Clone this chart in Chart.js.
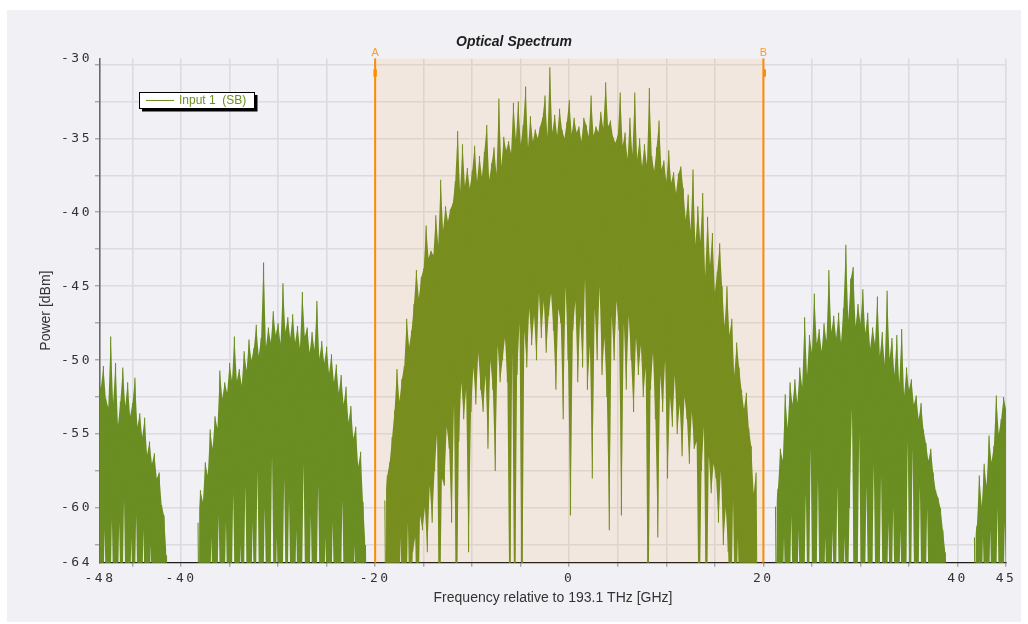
<!DOCTYPE html>
<html>
<head>
<meta charset="utf-8">
<title>Optical Spectrum</title>
<script src="https://cdn.jsdelivr.net/npm/chart.js@4.4.1/dist/chart.umd.min.js"></script>
<style>
  html, body { margin: 0; padding: 0; background: #ffffff; }
  #wrap { position: relative; width: 1028px; height: 624px; }
  #panel { position: absolute; left: 7px; top: 10px; width: 1014px; height: 612px; background: #f1f0f4; }
  #spectrum { position: absolute; left: 0; top: 0; }
</style>
</head>
<body>
<div id="wrap">
  <div id="panel"></div>
  <canvas id="spectrum" width="1028" height="624"></canvas>
</div>
<script>
// ---- Spectrum samples (dBm), one peak + one trough per 0.25 GHz bin ----
const SAMPLE_STEP = 0.25; // GHz

// Second lower side lobe (partially visible)
const farLeftStart = -48.5;
const farLeftPeak = [
  -52.0, -51.8, -50.4, -52.6, -53.2, -48.4, -52.9, -50.2,
  -54.4, -52.8, -50.5, -53.1, -51.5, -53.8, -52.9, -51.2,
  -54.5, -53.6, -55.2, -53.9, -56.4, -55.5, -57.0, -56.3,
  -58.0, -57.6, -59.8, -60.5, -63.2
];
const farLeftTrough = [
  -70, -70, -61.5, -70, -70, -60.8, -70, -70,
  -61, -70, -59.5, -70, -70, -62, -70, -60.5,
  -70, -70, -61.5, -70, -70, -62.5, -70, -70,
  -70, -70, -70, -70, -70
];

// First lower side lobe
const leftStart = -38.25;
const leftPeak = [
  -61.0, -58.8, -59.6, -56.9, -57.8, -54.7, -56.0, -53.8,
  -54.6, -50.7, -52.6, -51.5, -52.2, -50.2, -51.4, -48.4,
  -51.4, -50.6, -51.7, -49.4, -50.7, -48.6, -50.0, -49.2,
  -47.6, -49.7, -48.5, -43.4, -49.1, -47.8, -48.8, -46.7,
  -48.3, -47.5, -48.9, -44.8, -48.1, -47.1, -48.5, -46.9,
  -48.8, -47.7, -49.2, -45.4, -48.4, -47.8, -49.5, -48.1,
  -49.3, -46.0, -49.9, -48.7, -50.2, -49.1, -50.9, -49.6,
  -51.5, -50.3, -52.2, -51.0, -53.0, -51.8, -54.2, -53.1,
  -55.3, -54.5, -57.2, -56.2, -59.6, -62.5
];
const leftTrough = [
  -70, -70, -70, -70, -70, -62, -70, -70, -60.5, -70,
  -70, -61, -70, -70, -59, -70, -70, -62.5, -70, -58.5,
  -70, -70, -61, -70, -57.5, -70, -70, -60, -70, -70,
  -56.5, -70, -62, -70, -70, -58, -70, -59.5, -70, -70,
  -61.5, -70, -70, -57, -70, -70, -60.5, -70, -70, -58.5,
  -70, -70, -62, -70, -70, -61, -70, -70, -70, -59.5,
  -70, -70, -70, -70, -62.5, -70, -70, -70, -70, -70
];

// Main lobe
const mainStart = -19.0;
const mainPeak = [
  -59.5, -57.8, -56.9, -55.2, -53.4, -50.6, -52.8, -51.3,
  -50.4, -47.2, -49.1, -48.0, -46.2, -43.9, -45.8, -44.4,
  -43.8, -40.9, -43.1, -42.6, -42.9, -40.2, -42.2, -37.8,
  -41.2, -39.6, -40.6, -39.8, -39.4, -37.9, -34.5, -38.6,
  -35.4, -38.2, -37.0, -38.4, -37.2, -35.5, -37.9, -36.2,
  -37.6, -35.9, -34.1, -37.8, -36.7, -35.6, -37.4, -32.3,
  -36.9, -34.9, -35.8, -35.2, -36.0, -32.6, -35.1, -32.5,
  -35.4, -34.1, -31.5, -35.6, -33.5, -35.2, -34.4, -35.0,
  -34.2, -33.6, -32.1, -34.9, -30.2, -34.6, -33.4, -34.8,
  -33.0, -34.4, -35.0, -33.9, -32.4, -34.7, -33.6, -34.6,
  -34.2, -35.2, -33.6, -34.1, -34.9, -32.1, -34.8, -34.2,
  -34.6, -33.2, -34.3, -31.2, -34.2, -33.8, -34.9, -35.3,
  -34.8, -31.9, -35.5, -34.6, -36.4, -33.6, -36.1, -31.9,
  -36.4, -35.0, -36.9, -35.4, -36.8, -31.6, -36.2, -37.2,
  -35.6, -33.8, -37.1, -36.5, -37.9, -35.8, -38.0, -37.3,
  -38.7, -37.4, -36.9, -38.4, -40.5, -38.8, -41.2, -37.1,
  -42.2, -39.6, -42.0, -38.7, -44.3, -40.3, -43.6, -41.4,
  -45.4, -44.0, -42.1, -45.0, -47.7, -45.0, -48.3, -47.2,
  -51.0, -48.8, -50.5, -52.0, -53.3, -52.2, -54.6, -55.8,
  -59.0, -57.6
];
const mainTrough = [
  -70, -70, -70, -70, -70, -70, -62, -70,
  -70, -61, -70, -63, -62, -70, -60.5, -61.5,
  -60, -63, -58.5, -61, -57.5, -55, -70, -58,
  -58.5, -54.5, -56, -61, -53, -70, -55.5, -51.5,
  -54, -52, -63, -53.5, -50.5, -53, -49.5, -52,
  -53.5, -51, -56, -50, -52, -57.5, -49, -51.5,
  -50, -48.5, -51.5, -70, -49.5, -70, -51, -47.5,
  -70, -48, -50.5, -46.5, -49, -47, -50, -45.5,
  -48.5, -46, -49.5, -47, -45.5, -48, -52, -46.5,
  -47.5, -54, -45, -50, -60.5, -48, -46, -51.5,
  -47, -50.5, -44.5, -52, -49, -58, -46.5, -50,
  -45, -51, -48.5, -52.5, -61.5, -47, -50, -46,
  -48, -60.5, -47.5, -52, -47, -50, -53.5, -48.5,
  -51, -49, -52.5, -50.5, -70, -52, -49.5, -54,
  -62, -51, -53.5, -50, -58, -52.5, -54.5, -51,
  -55, -53, -56.5, -52.5, -54, -57, -53.5, -56,
  -55.5, -70, -57.5, -54.5, -70, -56.5, -59, -57,
  -58, -61, -57.5, -62.5, -60, -63, -70, -59.5,
  -70, -62, -70, -70, -70, -70, -70, -70,
  -70, -70
];

// First upper side lobe
const rightStart = 21.25;
const rightPeak = [
  -59.9, -58.7, -56.0, -56.8, -52.3, -54.6, -51.5, -53.0,
  -51.3, -52.9, -50.5, -51.8, -47.1, -51.0, -48.3, -49.5,
  -45.5, -48.9, -47.9, -49.4, -47.5, -48.7, -43.9, -48.1,
  -47.0, -48.5, -46.8, -48.8, -46.5, -42.2, -47.3, -44.5,
  -43.7, -47.7, -46.2, -47.5, -45.2, -48.2, -46.8, -49.2,
  -47.8, -48.9, -45.7, -49.7, -48.1, -50.3, -45.3, -49.9,
  -48.5, -51.0, -48.3, -51.6, -47.9, -52.4, -50.5, -52.0,
  -51.3, -53.0, -52.4, -54.0, -52.9, -54.7, -55.6, -56.8,
  -56.0, -57.6, -58.8, -59.3, -60.0, -61.5, -63.0
];
const rightTrough = [
  -70, -70, -70, -62, -70, -70, -60.5, -70,
  -70, -61.5, -70, -70, -59, -70, -56, -70,
  -70, -58, -70, -70, -62, -70, -70, -61.5,
  -70, -58.5, -70, -70, -62, -70, -60, -53.3,
  -70, -70, -55, -70, -70, -58.5, -70, -70,
  -57, -70, -70, -57.8, -70, -70, -61, -70,
  -60, -70, -70, -61.5, -70, -70, -55.5, -70,
  -56, -70, -70, -58.5, -70, -70, -60, -70,
  -70, -70, -70, -70, -70, -70, -70
];

// Second upper side lobe (partially visible)
const farRightStart = 41.75;
const farRightPeak = [
  -62.0, -61.2, -57.8, -59.9, -57.0, -58.5, -55.1, -56.9,
  -55.8, -52.4, -55.0, -54.0, -52.5, -53.3, -52.8
];
const farRightTrough = [
  -70, -70, -70, -62, -70, -70, -61.5, -70,
  -70, -60, -70, -70, -61, -70, -70
];

// ---- Axes ----
const xAxisRange = [-48.35, 45];
const xGridValues = [-45, -40, -35, -30, -25, -20, -15, -10, -5, 0, 5, 10, 15, 20, 25, 30, 35, 40, 45];
const xTickLabels = { '-48.35': '-48', '-40': '-40', '-20': '-20', '0': '0', '20': '20', '40': '40', '45': '45' };

const yAxisRange = [-63.7, -29.6];
const yGridValues = [-62.5, -60, -57.5, -55, -52.5, -50, -47.5, -45, -42.5, -40, -37.5, -35, -32.5, -30];
const yTickLabels = { '-63.7': '-64', '-60': '-60', '-55': '-55', '-50': '-50', '-45': '-45', '-40': '-40', '-35': '-35', '-29.6': '-30' };

// Frequency markers A and B
const markerNames = ['A', 'B'];
const markerFreqs = [-20, 20];

const seriesName = 'Input 1  (SB)';
const TRACE = '#6b8e23';
const GRID = '#dcdbdf';
const TICK = '#8a8a8a';
const TEXT = '#333333';

// ---- Build the trace: each bin contributes its peak then its trough ----
const lobes = [
  { start: farLeftStart, peak: farLeftPeak, trough: farLeftTrough },
  { start: leftStart, peak: leftPeak, trough: leftTrough },
  { start: mainStart, peak: mainPeak, trough: mainTrough },
  { start: rightStart, peak: rightPeak, trough: rightTrough },
  { start: farRightStart, peak: farRightPeak, trough: farRightTrough }
];
const tracePoints = [];   // zig-zag through peak and trough of every bin
const peakPoints = [];    // upper edge of the dense band
const troughPoints = [];  // lower edge of the dense band
lobes.forEach((lobe, k) => {
  if (k > 0) {
    const gapX = lobe.start - SAMPLE_STEP / 2;
    tracePoints.push({ x: gapX, y: null });
    peakPoints.push({ x: gapX, y: null });
    troughPoints.push({ x: gapX, y: null });
  }
  lobe.peak.forEach((p, i) => {
    const f = lobe.start + i * SAMPLE_STEP;
    const t = lobe.trough[i];
    tracePoints.push({ x: f, y: p });
    tracePoints.push({ x: f + SAMPLE_STEP / 2, y: t });
    peakPoints.push({ x: f, y: p });
    troughPoints.push({ x: f + SAMPLE_STEP / 2, y: t });
  });
});

// Linear scale whose tick labels are drawn with extra letter spacing
class SpacedLinearScale extends Chart.LinearScale {
  drawLabels(area) {
    const ctx = this.ctx;
    ctx.save();
    ctx.letterSpacing = '2.5px';
    super.drawLabels(area);
    ctx.restore();
  }
}
SpacedLinearScale.id = 'spacedLinear';
SpacedLinearScale.defaults = Chart.LinearScale.defaults;
Chart.register(SpacedLinearScale);

const isEdge = (v, range) => Math.abs(v - range[0]) < 1e-6 || Math.abs(v - range[1]) < 1e-6;

// Marker band, marker lines and the boxed legend
const overlayPlugin = {
  id: 'spectrumOverlay',
  afterDatasetsDraw(chart) {
    const { ctx, chartArea: a, scales: { x } } = chart;
    const xa = x.getPixelForValue(markerFreqs[0]);
    const xb = x.getPixelForValue(markerFreqs[1]);
    ctx.save();
    ctx.fillStyle = 'rgba(255,140,0,0.09)';
    ctx.fillRect(xa, a.top, xb - xa, a.bottom - a.top);
    ctx.strokeStyle = '#ff8c00';
    ctx.fillStyle = '#ff8c00';
    ctx.lineWidth = 2;
    markerFreqs.forEach((f, i) => {
      const px = x.getPixelForValue(f);
      ctx.beginPath();
      ctx.moveTo(px, a.top);
      ctx.lineTo(px, a.bottom);
      ctx.stroke();
      if (i === 0) ctx.fillRect(px - 1.7, a.top + 10.8, 3.4, 7.4);
      else ctx.fillRect(px, a.top + 10.8, 2.6, 7.4);
    });
    ctx.font = '11px "Liberation Sans", Arial, sans-serif';
    ctx.textAlign = 'center';
    ctx.textBaseline = 'alphabetic';
    ctx.fillStyle = '#ff9a2a';
    markerFreqs.forEach((f, i) => {
      ctx.fillText(markerNames[i], x.getPixelForValue(f), a.top - 2.5);
    });
    ctx.restore();
  },
  afterDraw(chart) {
    const ctx = chart.ctx;
    const bx = 139, by = 92, bw = 115, bh = 16;
    ctx.save();
    ctx.fillStyle = '#000000';
    ctx.fillRect(bx + 3, by + 3, bw + 0.5, bh + 0.5);
    ctx.fillStyle = '#ffffff';
    ctx.fillRect(bx, by, bw, bh);
    ctx.strokeStyle = '#000000';
    ctx.lineWidth = 1;
    ctx.strokeRect(bx + 0.5, by + 0.5, bw, bh);
    ctx.strokeStyle = TRACE;
    ctx.beginPath();
    ctx.moveTo(bx + 7, by + 8.5);
    ctx.lineTo(bx + 35, by + 8.5);
    ctx.stroke();
    ctx.fillStyle = TRACE;
    ctx.font = '12px "Liberation Sans", Arial, sans-serif';
    ctx.textAlign = 'left';
    ctx.textBaseline = 'middle';
    ctx.fillText(seriesName, bx + 40, by + 9);
    ctx.restore();
  }
};

const tickFont = { family: '"DejaVu Sans Mono", monospace', size: 13 };
const axisTitleFont = { family: '"Liberation Sans", Arial, sans-serif', size: 14 };

new Chart(document.getElementById('spectrum'), {
  type: 'line',
  data: {
    datasets: [
      {
        label: seriesName,
        data: tracePoints,
        borderColor: TRACE,
        borderWidth: 1.1,
        pointRadius: 0,
        tension: 0,
        spanGaps: false,
        fill: false,
        order: 0
      },
      {
        label: 'band upper edge',
        data: peakPoints,
        borderWidth: 0,
        borderColor: 'rgba(0,0,0,0)',
        backgroundColor: TRACE,
        pointRadius: 0,
        tension: 0,
        spanGaps: false,
        fill: { target: 2 },
        order: 1
      },
      {
        label: 'band lower edge',
        data: troughPoints,
        borderWidth: 0,
        borderColor: 'rgba(0,0,0,0)',
        pointRadius: 0,
        tension: 0,
        spanGaps: false,
        fill: false,
        order: 2
      }
    ]
  },
  options: {
    responsive: false,
    animation: false,
    devicePixelRatio: 1,
    events: [],
    layout: { padding: 0 },
    plugins: {
      legend: { display: false },
      tooltip: { enabled: false },
      title: {
        display: true,
        text: 'Optical Spectrum',
        color: '#1e1e1e',
        font: { family: '"Liberation Sans", Arial, sans-serif', size: 14, style: 'italic', weight: 'bold' },
        padding: { top: 34, bottom: 7.7 }
      }
    },
    scales: {
      x: {
        type: 'spacedLinear',
        position: 'bottom',
        min: xAxisRange[0],
        max: xAxisRange[1],
        afterBuildTicks: s => { s.ticks = [xAxisRange[0], ...xGridValues].map(v => ({ value: v })); },
        afterFit: s => { s.height = 61.3; },
        ticks: {
          autoSkip: false, maxRotation: 0, minRotation: 0, padding: 4,
          color: TEXT, font: tickFont,
          callback: v => xTickLabels[String(v)] || ''
        },
        grid: {
          color: c => (c.tick && Math.abs(c.tick.value - xAxisRange[0]) < 1e-6) ? 'rgba(0,0,0,0)' : GRID,
          lineWidth: 1.6,
          tickLength: 4,
          tickWidth: 1,
          tickColor: c => (c.tick && Math.abs(c.tick.value - xAxisRange[0]) < 1e-6) ? 'rgba(0,0,0,0)' : TICK
        },
        border: { color: '#1e1e1e', width: 1.2 },
        title: {
          display: true,
          text: 'Frequency relative to 193.1 THz [GHz]',
          color: TEXT, font: axisTitleFont,
          padding: { top: 0, bottom: 17.8 }
        }
      },
      y: {
        type: 'spacedLinear',
        position: 'left',
        min: yAxisRange[0],
        max: yAxisRange[1],
        afterBuildTicks: s => { s.ticks = [yAxisRange[0], ...yGridValues, yAxisRange[1]].map(v => ({ value: v })); },
        afterFit: s => { s.width = 100; },
        ticks: {
          autoSkip: false, padding: 3,
          color: TEXT, font: tickFont,
          callback: v => yTickLabels[String(v)] || ''
        },
        grid: {
          color: c => (c.tick && isEdge(c.tick.value, yAxisRange)) ? 'rgba(0,0,0,0)' : GRID,
          lineWidth: 1.6,
          tickLength: 5,
          tickWidth: 1,
          tickColor: c => (c.tick && isEdge(c.tick.value, yAxisRange)) ? 'rgba(0,0,0,0)' : TICK
        },
        border: { color: '#6a6a6a', width: 1.6 },
        title: {
          display: true,
          text: 'Power [dBm]',
          color: TEXT, font: axisTitleFont,
          padding: { top: 37.8, bottom: 0 }
        }
      },
      yRightMargin: {
        type: 'linear',
        position: 'right',
        display: true,
        grid: { display: false, drawTicks: false },
        ticks: { display: false },
        border: { display: false },
        afterFit: s => { s.width = 22; }
      }
    }
  },
  plugins: [overlayPlugin]
});
</script>
</body>
</html>
